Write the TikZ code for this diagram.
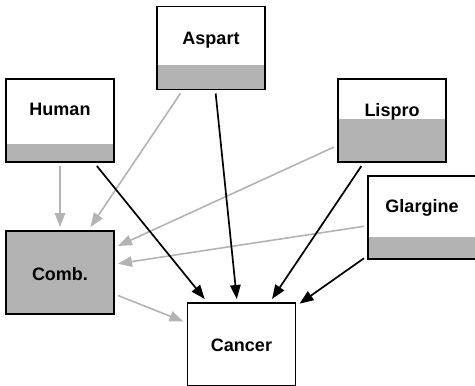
\documentclass[tikz,border=0pt]{standalone}
\usepackage{fontspec}
\setmainfont{Liberation Sans}
\usetikzlibrary{arrows.meta}
\definecolor{band}{RGB}{179,179,179}
\tikzset{
  box/.style={draw=black, line width=1.6pt, fill=white, minimum width=108pt,
    minimum height=83pt, inner sep=0pt, outer sep=4pt},
  banded/.style={box, path picture={
      \fill[band] (path picture bounding box.south west) rectangle
        ([yshift=#1]path picture bounding box.south east);}},
  solidbox/.style={box, fill=band},
  lbl/.style={anchor=base, font=\bfseries\fontsize{18}{21}\selectfont, inner sep=0pt},
  tip/.style={-{Triangle[length=14pt,width=10.5pt]}},
  grayedge/.style={tip, draw=band, line width=1.6pt},
  blackedge/.style={tip, draw=black, line width=1.7pt},
}
\begin{document}
\begin{tikzpicture}[x=1pt, y=-1pt]
  \useasboundingbox (0,0) rectangle (475,386);
  % boxes
  \node[banded=25pt] (aspart) at (211,48) {};
  \node[banded=18pt] (human) at (60,120.5) {};
  \node[banded=43pt] (lispro) at (392,120.5) {};
  \node[banded=22pt] (glargine) at (422,217.5) {};
  \node[solidbox] (comb) at (60,272.5) {};
  \node[box] (cancer) at (241.5,344.5) {};
  % labels
  \node[lbl] (aspartlbl) at (211,44) {Aspart};
  \node[lbl] (humanlbl) at (60,115.7) {Human};
  \node[lbl] (lisprolbl) at (392,116) {Lispro};
  \node[lbl] (glarginelbl) at (422,212.5) {Glargine};
  \node[lbl] (comblbl) at (60,280) {Comb.};
  \node[lbl] (cancerlbl) at (241.5,351) {Cancer};
  % edges into the combination node
  \draw[grayedge] (human) -- (comb);
  \draw[grayedge] (aspart) -- (comb);
  \draw[grayedge] (lispro) -- (comb);
  \draw[grayedge] (glargine) -- (comb);
  \draw[grayedge] (comb) -- (cancer);
  % direct edges into cancer
  \draw[blackedge] (human) -- (cancer);
  \draw[blackedge] (aspart) -- (cancer);
  \draw[blackedge] (lispro) -- (cancer);
  \draw[blackedge] (glargine) -- (cancer);
\end{tikzpicture}
\end{document}
